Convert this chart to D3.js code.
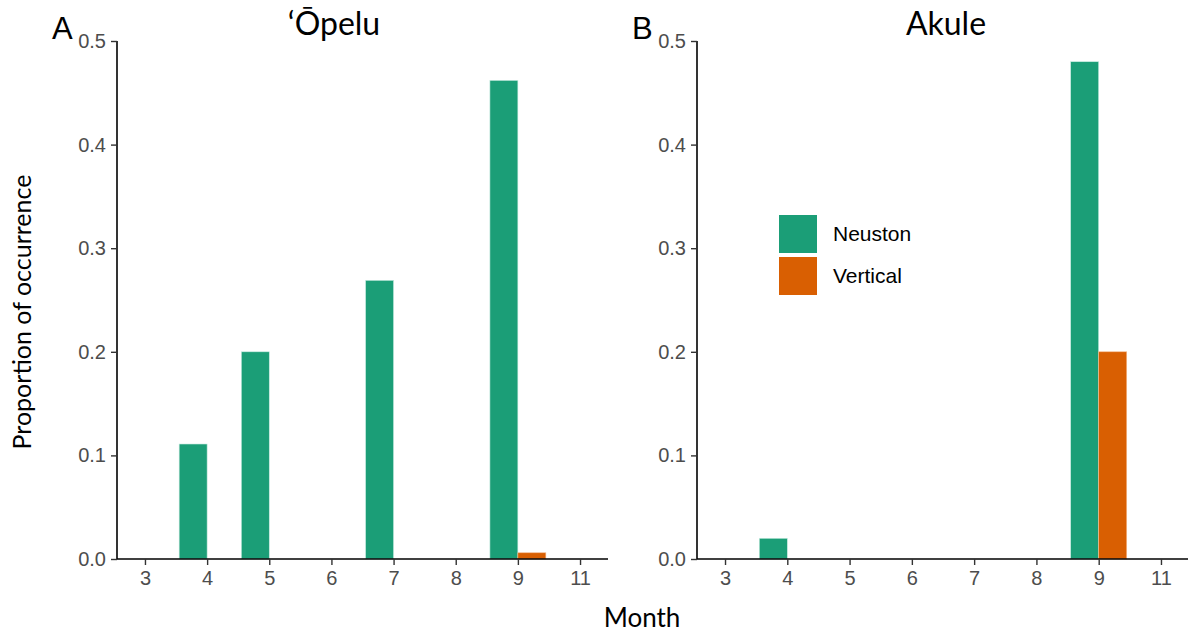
<!DOCTYPE html>
<html lang="en">
<head>
    <meta charset="UTF-8">
    <title>proportion of occurrence by month</title>
    <script src="https://d3js.org/d3.v7.min.js"></script>
    <style>
        body { margin: 0; background: #fff; }
    </style>
</head>
<body>
    <svg></svg>
    <script>
        const w = 1188;
        const h = 634;

        const months = ['3', '4', '5', '6', '7', '8', '9', '11'];
        const gears = ['Neuston', 'Vertical'];
        const opeluNeuston = [0, 0.111, 0.2, 0, 0.269, 0, 0.462, 0];
        const opeluVertical = [0, 0, 0, 0, 0, 0, 0.006, 0];
        const akuleNeuston = [0, 0.02, 0, 0, 0, 0, 0.48, 0];
        const akuleVertical = [0, 0, 0, 0, 0, 0, 0.2, 0];
        const yTicks = [0, 0.1, 0.2, 0.3, 0.4, 0.5];

        const panels = [
            { tag: 'A', title: '\u2018\u014Cpelu', neuston: opeluNeuston, vertical: opeluVertical, x0: 117, x1: 608, titleX: 334 },
            { tag: 'B', title: 'Akule', neuston: akuleNeuston, vertical: akuleVertical, x0: 697, x1: 1189, titleX: 946 }
        ];

        const color = d3.scaleOrdinal().domain(gears).range(['#1B9E77', '#D95F02']);

        const svg = d3.select('svg')
            .attr('width', w)
            .attr('height', h);

        const y = d3.scaleLinear().domain([0, 0.5]).range([559, 41]);

        panels.forEach(p => {
            const x = d3.scalePoint()
                .domain(months)
                .range([p.x0, p.x1])
                .padding(0.45);
            const bw = x.step() * 0.45;

            const rows = [];
            months.forEach((m, i) => {
                rows.push({ month: m, gear: 'Neuston', value: p.neuston[i] });
                rows.push({ month: m, gear: 'Vertical', value: p.vertical[i] });
            });

            svg.append('g')
                .selectAll('rect')
                .data(rows.filter(d => d.value > 0))
                .enter()
                .append('rect')
                .attr('x', d => d.gear === 'Neuston' ? x(d.month) - bw : x(d.month))
                .attr('y', d => y(d.value))
                .attr('width', bw)
                .attr('height', d => y(0) - y(d.value))
                .attr('fill', d => color(d.gear))
                .attr('stroke', d => d.gear === 'Neuston' ? '#c9ece1' : '#f4b98a')
                .attr('stroke-width', 0.6);

            // x axis
            const gx = svg.append('g')
                .attr('transform', `translate(0, ${y(0)})`)
                .call(d3.axisBottom(x).tickSize(6).tickPadding(6));
            gx.select('.domain').attr('stroke', '#000').attr('stroke-width', 1.6)
                .attr('d', `M${p.x0},0H${p.x1}`);
            gx.selectAll('.tick line').attr('stroke', '#333').attr('stroke-width', 1.4);
            gx.selectAll('.tick text')
                .attr('fill', '#4D4D4D')
                .style('font-family', '"Liberation Sans", Arial, sans-serif')
                .style('font-size', '20px');

            // y axis
            const gy = svg.append('g')
                .attr('transform', `translate(${p.x0}, 0)`)
                .call(d3.axisLeft(y).tickValues(yTicks).tickFormat(d3.format('.1f')).tickSize(6).tickPadding(5));
            gy.select('.domain').attr('stroke', '#000').attr('stroke-width', 1.6)
                .attr('d', `M0,${y(0.5)}V${y(0)}`);
            gy.selectAll('.tick line').attr('stroke', '#333').attr('stroke-width', 1.4);
            gy.selectAll('.tick text')
                .attr('fill', '#4D4D4D')
                .style('font-family', '"Liberation Sans", Arial, sans-serif')
                .style('font-size', '20px');

            svg.append('text')
                .attr('x', p.titleX)
                .attr('y', 35)
                .attr('text-anchor', 'middle')
                .style('font-family', 'Lato, "Open Sans", sans-serif')
                .style('font-size', '32px')
                .text(p.title);

            svg.append('text')
                .attr('x', p.x0 - 65)
                .attr('y', 39)
                .style('font-family', '"Liberation Sans", Arial, sans-serif')
                .style('font-size', '31px')
                .text(p.tag);
        });

        // axis titles
        svg.append('text')
            .attr('x', 642)
            .attr('y', 627)
            .attr('text-anchor', 'middle')
            .style('font-family', 'Lato, "Open Sans", sans-serif')
            .style('font-size', '26px')
            .text('Month');

        svg.append('text')
            .attr('transform', 'translate(31, 312) rotate(-90)')
            .attr('text-anchor', 'middle')
            .style('font-family', 'Lato, "Open Sans", sans-serif')
            .style('font-size', '25px')
            .text('Proportion of occurrence');

        // legend
        const legend = svg.append('g')
            .attr('transform', 'translate(779, 215)');
        const key = legend.selectAll('g')
            .data(gears)
            .enter()
            .append('g')
            .attr('transform', (d, i) => `translate(0, ${i * 42})`);
        key.append('rect')
            .attr('width', 38)
            .attr('height', 38)
            .attr('fill', d => color(d));
        key.append('text')
            .attr('x', 54)
            .attr('y', 19)
            .attr('dy', '0.35em')
            .style('font-family', '"Liberation Sans", Arial, sans-serif')
            .style('font-size', '21px')
            .text(d => d);
    </script>
</body>
</html>
